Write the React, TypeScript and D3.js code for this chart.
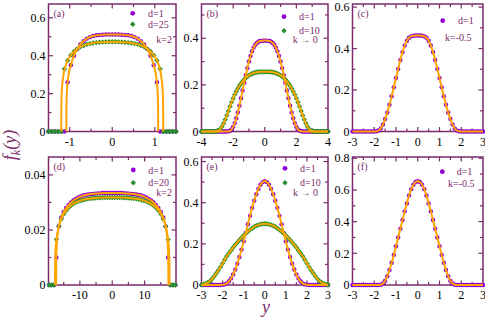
import React from 'react'
import * as d3 from 'd3'

// ---- panel (a): k=2, d=1 / d=25, sampled every 0.075 on [-1.5, 1.5]
const aPurple = [0, 0, 0, 0, 0, 0, 0.260, 0.350, 0.400, 0.435, 0.460, 0.477, 0.490, 0.498, 0.504, 0.508, 0.510, 0.511, 0.512, 0.512, 0.512, 0.512, 0.512, 0.511, 0.510, 0.508, 0.504, 0.498, 0.490, 0.477, 0.460, 0.435, 0.400, 0.350, 0.260, 0, 0, 0, 0, 0, 0]
const aGreen = [0, 0, 0, 0, 0, 0.330, 0.375, 0.403, 0.422, 0.436, 0.447, 0.454, 0.460, 0.464, 0.467, 0.469, 0.471, 0.472, 0.473, 0.474, 0.474, 0.474, 0.473, 0.472, 0.471, 0.469, 0.467, 0.464, 0.460, 0.454, 0.447, 0.436, 0.422, 0.403, 0.375, 0.330, 0, 0, 0, 0, 0]
const aLinePurpleX = [-1.08, -1.079, -1.075, -1.065, -1.05, -1.02, -0.975, -0.9, -0.825, -0.75, -0.6, -0.45, -0.3, -0.15, 0, 0.15, 0.3, 0.45, 0.6, 0.75, 0.825, 0.9, 0.975, 1.02, 1.05, 1.065, 1.075, 1.079, 1.08]
const aLinePurpleY = [0, 0.1, 0.17, 0.22, 0.26, 0.31, 0.35, 0.4, 0.435, 0.46, 0.49, 0.504, 0.51, 0.512, 0.512, 0.512, 0.51, 0.504, 0.49, 0.46, 0.435, 0.4, 0.35, 0.31, 0.26, 0.22, 0.17, 0.1, 0]
const aLineGreenX = [-1.2, -1.199, -1.195, -1.185, -1.17, -1.14, -1.1, -1.05, -0.975, -0.9, -0.825, -0.75, -0.6, -0.45, -0.3, -0.15, 0, 0.15, 0.3, 0.45, 0.6, 0.75, 0.825, 0.9, 0.975, 1.05, 1.1, 1.14, 1.17, 1.185, 1.195, 1.199, 1.2]
const aLineGreenY = [0, 0.1, 0.17, 0.22, 0.26, 0.31, 0.345, 0.375, 0.403, 0.422, 0.436, 0.447, 0.46, 0.467, 0.471, 0.473, 0.474, 0.473, 0.471, 0.467, 0.46, 0.447, 0.436, 0.422, 0.403, 0.375, 0.345, 0.31, 0.26, 0.22, 0.17, 0.1, 0]

// ---- panel (b): k -> 0, d=1 / d=10, every 0.1 on [-4, 4]
const bPurple = [0, 0, 0, 0, 0, 0, 0, 0, 0, 0, 0, 0, 0, 0, 0, 0, 0,
  0.001, 0.003, 0.009, 0.020, 0.036, 0.057, 0.082, 0.111, 0.143, 0.176, 0.209, 0.242, 0.272, 0.300, 0.324, 0.344, 0.360, 0.372, 0.380, 0.385, 0.388, 0.389, 0.390,
  0.390,
  0.390, 0.389, 0.388, 0.385, 0.380, 0.372, 0.360, 0.344, 0.324, 0.300, 0.272, 0.242, 0.209, 0.176, 0.143, 0.111, 0.082, 0.057, 0.036, 0.020, 0.009, 0.003, 0.001,
  0, 0, 0, 0, 0, 0, 0, 0, 0, 0, 0, 0, 0, 0, 0, 0, 0]
const bGreen = [0, 0, 0, 0, 0, 0, 0, 0, 0,
  0.001, 0.002, 0.005, 0.011, 0.021, 0.035, 0.051, 0.069, 0.088, 0.107, 0.125, 0.142, 0.158, 0.172, 0.185, 0.196, 0.206, 0.215, 0.223, 0.230, 0.236, 0.241, 0.245, 0.248, 0.251, 0.253, 0.254, 0.255, 0.256, 0.256, 0.256,
  0.256,
  0.256, 0.256, 0.256, 0.255, 0.254, 0.253, 0.251, 0.248, 0.245, 0.241, 0.236, 0.230, 0.223, 0.215, 0.206, 0.196, 0.185, 0.172, 0.158, 0.142, 0.125, 0.107, 0.088, 0.069, 0.051, 0.035, 0.021, 0.011, 0.005, 0.002, 0.001,
  0, 0, 0, 0, 0, 0, 0, 0, 0]

// ---- panel (c): k=-0.5, d=1, every 0.1 on [-3, 3]
const cPurple = [0, 0, 0, 0, 0, 0, 0, 0, 0, 0, 0,
  0.001, 0.005, 0.015, 0.034, 0.060, 0.092, 0.129, 0.170, 0.213, 0.258, 0.302, 0.345, 0.383, 0.415, 0.438, 0.452, 0.459, 0.462, 0.463,
  0.463,
  0.463, 0.462, 0.459, 0.452, 0.438, 0.415, 0.383, 0.345, 0.302, 0.258, 0.213, 0.170, 0.129, 0.092, 0.060, 0.034, 0.015, 0.005, 0.001,
  0, 0, 0, 0, 0, 0, 0, 0, 0, 0, 0]

// ---- panel (d): k=2, d=1 / d=20, every 0.75 on [-19.5, 19.5]
const dPurple = [0, 0, 0, 0.0100, 0.0213, 0.0245, 0.0265, 0.0280, 0.0291, 0.0300, 0.0307, 0.0313, 0.0318, 0.0322, 0.0325, 0.0327, 0.0329, 0.0330, 0.0331, 0.0332, 0.0333, 0.0333, 0.0334, 0.0334, 0.0334, 0.0334,
  0.0334,
  0.0334, 0.0334, 0.0334, 0.0334, 0.0333, 0.0333, 0.0332, 0.0331, 0.0330, 0.0329, 0.0327, 0.0325, 0.0322, 0.0318, 0.0313, 0.0307, 0.0300, 0.0291, 0.0280, 0.0265, 0.0245, 0.0213, 0.0100, 0, 0, 0]
const dGreen = [0, 0, 0, 0.0165, 0.0213, 0.0240, 0.0258, 0.0271, 0.0281, 0.0289, 0.0295, 0.0300, 0.0304, 0.0307, 0.0309, 0.0311, 0.0313, 0.0314, 0.0315, 0.0316, 0.0317, 0.0317, 0.0318, 0.0318, 0.0318, 0.0318,
  0.0318,
  0.0318, 0.0318, 0.0318, 0.0318, 0.0317, 0.0317, 0.0316, 0.0315, 0.0314, 0.0313, 0.0311, 0.0309, 0.0307, 0.0304, 0.0300, 0.0295, 0.0289, 0.0281, 0.0271, 0.0258, 0.0240, 0.0213, 0.0165, 0, 0, 0]
const dLinePurpleX = [-17.35, -17.34, -17.3, -17.2, -17, -16.5, -15.75, -15, -13.5, -12, -10, -7.5, -5, -2.5, 0, 2.5, 5, 7.5, 10, 12, 13.5, 15, 15.75, 16.5, 17, 17.2, 17.3, 17.34, 17.35]
const dLinePurpleY = [0, 0.005, 0.0095, 0.0135, 0.017, 0.0213, 0.0245, 0.0265, 0.0291, 0.0307, 0.032, 0.0329, 0.0332, 0.0334, 0.0334, 0.0334, 0.0332, 0.0329, 0.032, 0.0307, 0.0291, 0.0265, 0.0245, 0.0213, 0.017, 0.0135, 0.0095, 0.005, 0]
const dLineGreenX = [-17.7, -17.68, -17.6, -17.4, -17, -16.5, -15.75, -15, -13.5, -12, -10, -7.5, -5, -2.5, 0, 2.5, 5, 7.5, 10, 12, 13.5, 15, 15.75, 16.5, 17, 17.4, 17.6, 17.68, 17.7]
const dLineGreenY = [0, 0.006, 0.011, 0.015, 0.0185, 0.0213, 0.024, 0.0258, 0.0281, 0.0295, 0.0306, 0.0313, 0.0316, 0.0318, 0.0318, 0.0318, 0.0316, 0.0313, 0.0306, 0.0295, 0.0281, 0.0258, 0.024, 0.0213, 0.0185, 0.015, 0.011, 0.006, 0]

// ---- panel (e): k -> 0, d=1 / d=10, every 0.1 on [-3, 3]
const ePurple = [0, 0, 0, 0, 0, 0, 0, 0, 0, 0,
  0.001, 0.003, 0.008, 0.018, 0.032, 0.051, 0.075, 0.103, 0.136, 0.172, 0.212, 0.253, 0.295, 0.336, 0.375, 0.410, 0.441, 0.467, 0.487, 0.500,
  0.505,
  0.500, 0.487, 0.467, 0.441, 0.410, 0.375, 0.336, 0.295, 0.253, 0.212, 0.172, 0.136, 0.103, 0.075, 0.051, 0.032, 0.018, 0.008, 0.003, 0.001,
  0, 0, 0, 0, 0, 0, 0, 0, 0, 0]
const eGreen = [0.001, 0.003, 0.006, 0.012, 0.019, 0.030, 0.042, 0.057, 0.072, 0.088, 0.105, 0.123, 0.140, 0.154, 0.168, 0.182, 0.195, 0.207, 0.219, 0.230, 0.241, 0.251, 0.260, 0.268, 0.276, 0.283, 0.288, 0.292, 0.295, 0.297,
  0.298,
  0.297, 0.295, 0.292, 0.288, 0.283, 0.276, 0.268, 0.260, 0.251, 0.241, 0.230, 0.219, 0.207, 0.195, 0.182, 0.168, 0.154, 0.140, 0.123, 0.105, 0.088, 0.072, 0.057, 0.042, 0.030, 0.019, 0.012, 0.006, 0.003, 0.001]

// ---- panel (f): k=-0.5, d=1, every 0.1 on [-3, 3]
const fPurple = [0, 0, 0, 0, 0, 0, 0, 0, 0, 0, 0, 0, 0,
  0.002, 0.009, 0.027, 0.056, 0.095, 0.140, 0.190, 0.245, 0.300, 0.355, 0.410, 0.465, 0.515, 0.565, 0.605, 0.633, 0.650,
  0.655,
  0.650, 0.633, 0.605, 0.565, 0.515, 0.465, 0.410, 0.355, 0.300, 0.245, 0.190, 0.140, 0.095, 0.056, 0.027, 0.009, 0.002,
  0, 0, 0, 0, 0, 0, 0, 0, 0, 0, 0, 0, 0]

// tick labels
const xTicksA = [-1, 0, 1]
const xTicksB = [-4, -2, 0, 2, 4]
const xTicks3 = [-3, -2, -1, 0, 1, 2, 3]
const xTicksD = [-10, 0, 10]
const yTicksA = [0, 0.2, 0.4, 0.6]
const yTicksB = [0, 0.2, 0.4]
const yTicksD = [0, 0.02, 0.04]
const yTicksF = [0, 0.2, 0.4, 0.6, 0.8]

const FRAME = '#7b2d6b'
const PURPLE = '#9400d3'
const GREEN = '#23902a'
const ORANGE = '#ffa500'
const SERIF = 'Liberation Serif, DejaVu Serif, Times New Roman, serif'

const grid = (start, step, n) => d3.range(n).map(i => start + i * step)
const pts = (xs, ys) => ys.map((v, i) => [xs[i], v])

const cols = [[48.5, 176], [201.5, 328], [352.5, 483]]
const rows = [[4, 131.5], [157, 285]]

const panels = [
  {
    tag: '(a)', col: 0, row: 0, xDomain: [-1.5, 1.5], yMax: 0.673, xTicks: xTicksA, xMinor: 0.5, yTicks: yTicksA, yMinor: 0.1,
    purple: pts(grid(-1.5, 0.075, 41), aPurple), green: pts(grid(-1.5, 0.075, 41), aGreen),
    lines: [pts(aLinePurpleX, aLinePurpleY), pts(aLineGreenX, aLineGreenY)],
    legend: { mx: 132.7, my: [13.3, 24.3], tx: 148, labels: ['d=1', 'd=25'], extra: 'k=2', ex: 172, ey: 42.5, anchor: 'end' }
  },
  {
    tag: '(b)', col: 1, row: 0, xDomain: [-4, 4], yMax: 0.547, xTicks: xTicksB, xMinor: 1, yTicks: yTicksB, yMinor: 0.1,
    purple: pts(grid(-4, 0.1, 81), bPurple), green: pts(grid(-4, 0.1, 81), bGreen),
    lines: null,
    legend: { mx: 284, my: [16.7, 30.7], tx: 299, labels: ['d=1', 'd=10'], extra: 'k \u2192 0', ex: 292.7, ey: 43.3, anchor: 'start' }
  },
  {
    tag: '(c)', col: 2, row: 0, xDomain: [-3, 3], yMax: 0.615, xTicks: xTicks3, xMinor: 0.5, yTicks: yTicksA, yMinor: 0.1,
    purple: pts(grid(-3, 0.1, 61), cPurple), green: null,
    lines: null,
    legend: { mx: 442.7, my: [20.7], tx: 458, labels: ['d=1'], extra: 'k=-0.5', ex: 445, ey: 40.6, anchor: 'start' }
  },
  {
    tag: '(d)', col: 0, row: 1, xDomain: [-19.7, 19.7], yMax: 0.0465, xTicks: xTicksD, xMinor: 5, yTicks: yTicksD, yMinor: 0.01,
    purple: pts(grid(-19.5, 0.75, 53), dPurple), green: pts(grid(-19.5, 0.75, 53), dGreen),
    lines: [pts(dLinePurpleX, dLinePurpleY), pts(dLineGreenX, dLineGreenY)],
    legend: { mx: 133.3, my: [170, 182.7], tx: 148.3, labels: ['d=1', 'd=20'], extra: 'k=2', ex: 172, ey: 195.5, anchor: 'end' }
  },
  {
    tag: '(e)', col: 1, row: 1, xDomain: [-3, 3], yMax: 0.622, xTicks: xTicks3, xMinor: 0.5, yTicks: yTicksA, yMinor: 0.1,
    purple: pts(grid(-3, 0.1, 61), ePurple), green: pts(grid(-3, 0.1, 61), eGreen),
    lines: null,
    legend: { mx: 285, my: [168.3, 182.7], tx: 300, labels: ['d=1', 'd=10'], extra: 'k \u2192 0', ex: 293, ey: 196.3, anchor: 'start' }
  },
  {
    tag: '(f)', col: 2, row: 1, xDomain: [-3, 3], yMax: 0.808, xTicks: xTicks3, xMinor: 0.5, yTicks: yTicksF, yMinor: 0.1,
    purple: pts(grid(-3, 0.1, 61), fPurple), green: null,
    lines: null,
    legend: { mx: 442.3, my: [171.7], tx: 456.7, labels: ['d=1'], extra: 'k=-0.5', ex: 448, ey: 186.6, anchor: 'start' }
  }
]

// small square turned 45 degrees
const diamond = 'M0,-2.7L2.7,0L0,2.7L-2.7,0Z'

function Panel ({ p }) {
  const [left, right] = cols[p.col]
  const [top, bottom] = rows[p.row]
  const x = d3.scaleLinear().domain(p.xDomain).range([left, right])
  const y = d3.scaleLinear().domain([0, p.yMax]).range([bottom, top])

  // minor ticks every xMinor / yMinor, skipping the frame edges
  const xm = d3.range(Math.ceil(p.xDomain[0] / p.xMinor) * p.xMinor, p.xDomain[1] + 1e-9, p.xMinor)
    .filter(v => Math.abs(x(v) - left) > 1 && Math.abs(x(v) - right) > 1)
  const ym = d3.range(0, p.yMax + 1e-9, p.yMinor)
    .filter(v => Math.abs(y(v) - bottom) > 1 && Math.abs(y(v) - top) > 1)
  const isMajor = (v, list) => list.some(t => Math.abs(t - v) < 1e-6)

  const line = d3.line().x(d => x(d[0])).y(d => y(d[1])).curve(d3.curveMonotoneX)
  const lines = p.lines || [p.purple, p.green].filter(Boolean)

  return (
    <g>
      <rect x={left} y={top} width={right - left} height={bottom - top} fill='none' stroke={FRAME} strokeWidth={1.5} />
      {xm.map((v, i) => {
        const len = isMajor(v, p.xTicks) ? 4.5 : 3
        return (
          <g key={'xt' + i} stroke={FRAME} strokeWidth={1.2}>
            <line x1={x(v)} x2={x(v)} y1={bottom} y2={bottom - len} />
            <line x1={x(v)} x2={x(v)} y1={top} y2={top + len} />
          </g>
        )
      })}
      {ym.map((v, i) => {
        const len = isMajor(v, p.yTicks) ? 4.5 : 3
        return (
          <g key={'yt' + i} stroke={FRAME} strokeWidth={1.2}>
            <line x1={left} x2={left + len} y1={y(v)} y2={y(v)} />
            <line x1={right} x2={right - len} y1={y(v)} y2={y(v)} />
          </g>
        )
      })}
      {p.xTicks.map(v => (
        <text key={'xl' + v} x={x(v)} y={bottom + 14.3} textAnchor='middle' fontSize={12} fontFamily={SERIF} fill='#000'>{String(v)}</text>
      ))}
      {p.yTicks.map(v => (
        <text key={'yl' + v} x={left - 3} y={y(v)} dy='0.35em' textAnchor='end' fontSize={12} fontFamily={SERIF} fill='#000'>{String(v)}</text>
      ))}

      {p.purple.map((d, i) => (
        <circle key={'p' + i} cx={x(d[0])} cy={y(d[1])} r={2.2} fill={PURPLE} />
      ))}
      {p.green && p.green.map((d, i) => (
        <path key={'g' + i} d={diamond} transform={`translate(${x(d[0])},${y(d[1])})`} fill={GREEN} />
      ))}
      {lines.map((l, i) => (
        <path key={'l' + i} d={line(l)} fill='none' stroke={ORANGE} strokeWidth={2} />
      ))}

      <text x={left + 5} y={top + 13} fontSize={10} fontFamily={SERIF} fill={FRAME}>{p.tag}</text>
      {p.legend.labels.map((lab, i) => (
        <g key={'lg' + i}>
          {i === 0
            ? <circle cx={p.legend.mx} cy={p.legend.my[i]} r={2.4} fill={PURPLE} />
            : <path d={diamond} transform={`translate(${p.legend.mx},${p.legend.my[i]})`} fill={GREEN} />}
          <text x={p.legend.tx} y={p.legend.my[i] + 3.5} fontSize={10} fontFamily={SERIF} fill={FRAME}>{lab}</text>
        </g>
      ))}
      <text x={p.legend.ex} y={p.legend.ey} textAnchor={p.legend.anchor} fontSize={10} fontFamily={SERIF} fill={FRAME}>{p.legend.extra}</text>
    </g>
  )
}

export default function App () {
  return (
    <svg width={485} height={319} style={{ position: 'absolute', left: 0, top: 0, background: '#fff' }}>
      <rect width={485} height={319} fill='#fff' />
      {panels.map(p => <Panel key={p.tag} p={p} />)}
      <text transform='translate(16,145) rotate(-90)' textAnchor='middle' fontSize={18} fontStyle='italic' fontFamily={SERIF} fill={FRAME}>
        f<tspan fontSize={12} dy={4}>k</tspan><tspan dy={-4}>(y)</tspan>
      </text>
      <text x={266} y={313} textAnchor='middle' fontSize={18} fontStyle='italic' fontFamily={SERIF} fill={FRAME}>y</text>
    </svg>
  )
}
